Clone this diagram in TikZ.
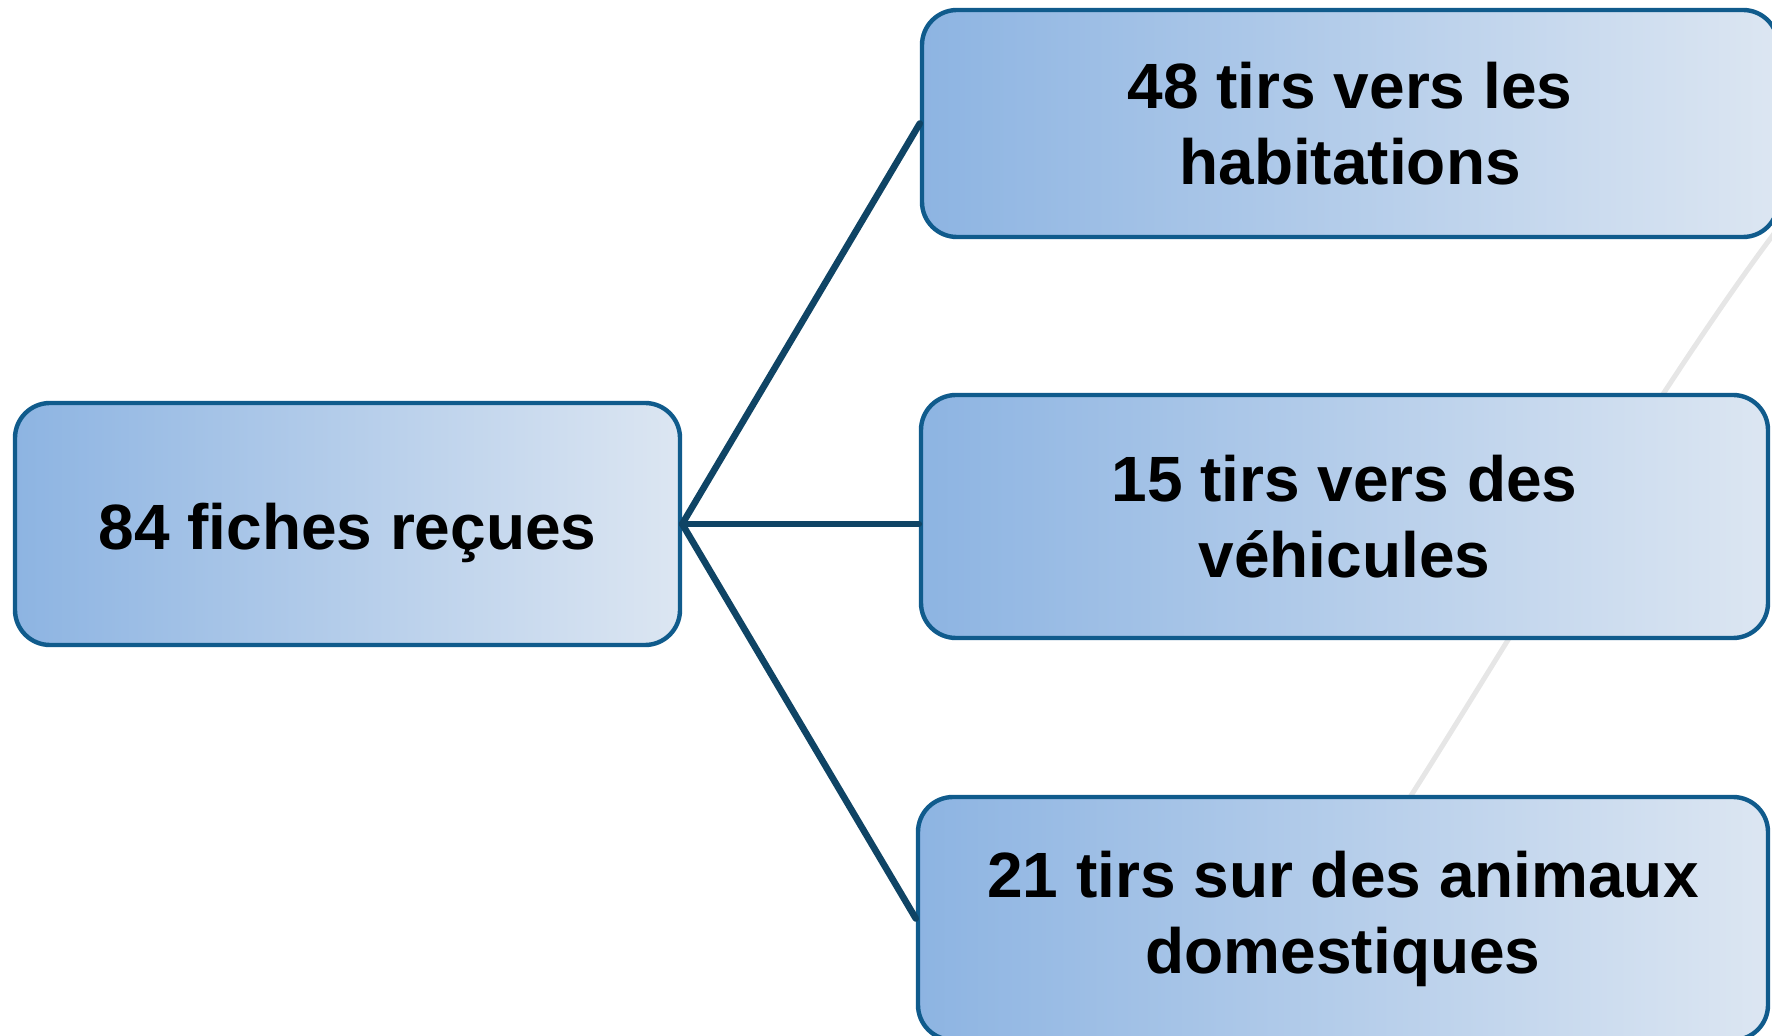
\documentclass[tikz,border=0pt]{standalone}
\usepackage{fontspec}
\setmainfont{Liberation Sans}
\usepackage{xcolor}
\usepackage{tikz}
\definecolor{boxline}{HTML}{105B8C}
\definecolor{link}{HTML}{0F4465}
\definecolor{fillL}{HTML}{8DB4E2}
\definecolor{fillR}{HTML}{DCE6F2}
\definecolor{faint}{HTML}{E6E6E6}
\tikzset{
  card/.style={draw=boxline, line width=2.2pt, rounded corners=17.5pt,
    left color=fillL, right color=fillR, shading angle=90,
    align=center, inner sep=0pt,
    font=\bfseries\fontsize{32}{38}\selectfont, text=black},
  branch/.style={draw=link, line width=3.3pt, line cap=round},
  ghost/.style={draw=faint, line width=2.5pt},
}

\begin{document}
\begin{tikzpicture}[x=0.5pt, y=-0.5pt]
  \useasboundingbox (0,0) rectangle (1772,1036);

  \draw[ghost] (1405,805) .. controls (1505,649) and (1680,350) .. (1800,200);

  \node[card, minimum width=332.5pt, minimum height=121pt] (total) at (347.5,524) {\raisebox{-13pt}[0pt][0pt]{84 fiches reçues}};
  \node[card, minimum width=428pt, minimum height=113.5pt] (habit) at (1350,123.5) {48 tirs vers les\\habitations};
  \node[card, minimum width=423.5pt, minimum height=121.5pt] (vehic) at (1344.5,516.5) {15 tirs vers des\\véhicules};
  \node[card, minimum width=425pt, minimum height=121.5pt] (anim) at (1343,918.5) {21 tirs sur des animaux\\domestiques};

  \draw[branch] (total.east)--(habit.west);
  \draw[branch] (total.east)--(vehic.west |- total.east);
  \draw[branch] (total.east)--(anim.west);
\end{tikzpicture}
\end{document}
